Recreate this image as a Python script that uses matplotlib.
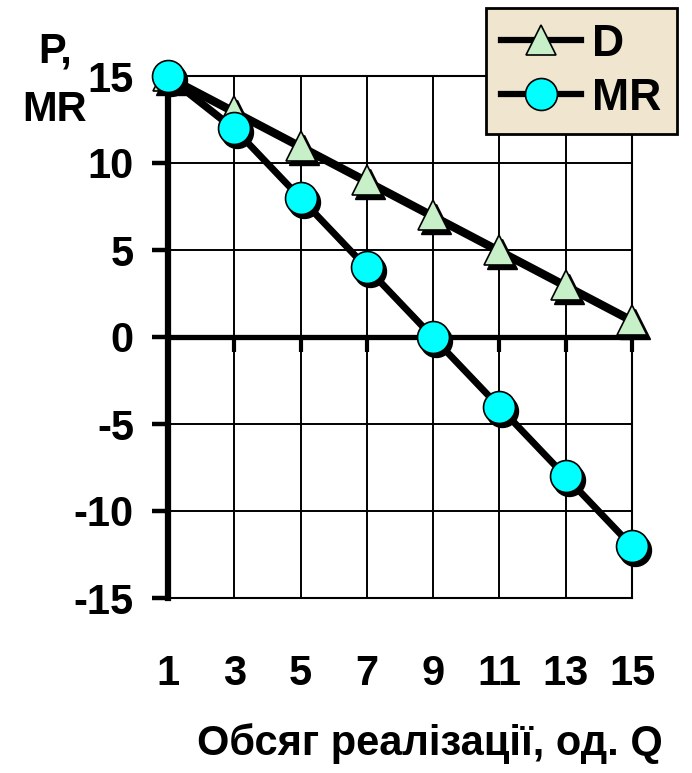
import matplotlib
matplotlib.use("Agg")
import matplotlib.pyplot as plt
from matplotlib.lines import Line2D
from matplotlib import transforms

# ---- data ----
quantity = [1, 3, 5, 7, 9, 11, 13, 15]
demand_p = [15, 13, 11, 9, 7, 5, 3, 1]
marginal_r = [15, 12, 8, 4, 0, -4, -8, -12]
y_ticks = [-15, -10, -5, 0, 5, 10, 15]
series_names = ["D", "MR"]
x_title = "Обсяг реалізації, од. Q"
y_title = "P,\nMR"

plt.rcParams['font.family'] = ['Liberation Sans', 'DejaVu Sans']
plt.rcParams['font.weight'] = 'bold'

fig = plt.figure(figsize=(6.92, 7.73), dpi=100)
ax = fig.add_axes([168/692, 1-598/773, (632-168)/692, (598-76)/773])

ax.set_xlim(1, 15)
ax.set_ylim(-15, 15)

# grid
ax.set_xticks(quantity)
ax.set_yticks(y_ticks)
ax.grid(True, color='black', lw=1.4, zorder=0)
ax.set_axisbelow(True)

for s in ['top', 'right', 'bottom']:
    ax.spines[s].set_linewidth(1.5)
ax.spines['left'].set_linewidth(4.5)
ax.spines['left'].set_zorder(3)

ax.axhline(0, color='black', lw=3.8, zorder=2)

ax.tick_params(axis='y', direction='out', length=11.5, width=3.2, pad=13,
               labelsize=30, colors='black')
ax.tick_params(axis='x', direction='out', length=0, pad=40, labelsize=30)
ax.set_xticklabels([str(q) for q in quantity], fontweight='bold')
ax.set_yticklabels([str(t) for t in y_ticks], fontweight='bold')

# ticks on the zero line
sec = ax.secondary_xaxis(0.5)
sec.set_alignment('bottom')
sec.set_xticks(quantity)
sec.tick_params(direction='out', length=11, width=3, labelbottom=False, labeltop=False)
for s in sec.spines.values():
    s.set_visible(False)

shadow = transforms.offset_copy(ax.transData, fig=fig, x=3, y=-4, units='dots')

tri_color = '#C8F0C8'
circ_color = '#00FFFF'
lw = 4.5

# shadows
ax.plot(quantity, demand_p, color='black', lw=lw, marker='^', ms=22,
        mfc='black', mec='black', transform=shadow, zorder=4, clip_on=False)
ax.plot(quantity, marginal_r, color='black', lw=lw, marker='o', ms=23,
        mfc='black', mec='black', transform=shadow, zorder=6, clip_on=False)
# series
ax.plot(quantity, demand_p, color='black', lw=lw, marker='^', ms=22,
        mfc=tri_color, mec='black', mew=1.2, zorder=5, clip_on=False)
ax.plot(quantity, marginal_r, color='black', lw=lw, marker='o', ms=23,
        mfc=circ_color, mec='black', mew=1.2, zorder=7, clip_on=False)

# legend
handles = [
    Line2D([], [], color='black', lw=lw, marker='^', ms=22, mfc=tri_color, mec='black', mew=1.2),
    Line2D([], [], color='black', lw=lw, marker='o', ms=23, mfc=circ_color, mec='black', mew=1.2),
]
leg = fig.legend(handles, series_names, loc='upper right',
                 bbox_to_anchor=(677/692, 1-8/773), bbox_transform=fig.transFigure,
                 prop={'family': 'Liberation Sans', 'weight': 'bold', 'size': 32},
                 frameon=True, fancybox=False, facecolor='#F0E6CF', edgecolor='black',
                 framealpha=1, handlelength=1.8, handletextpad=0.25,
                 borderpad=0.35, labelspacing=0.3, borderaxespad=0)
leg.get_frame().set_linewidth(2)

fig.text(55/692, 1-81/773, y_title, ha='center', va='center', fontsize=30,
         fontweight='bold', linespacing=1.6)
fig.text(430/692, 1-744/773, x_title, ha='center', va='center', fontsize=30,
         fontweight='bold')

fig.savefig('out.png', dpi=100)
